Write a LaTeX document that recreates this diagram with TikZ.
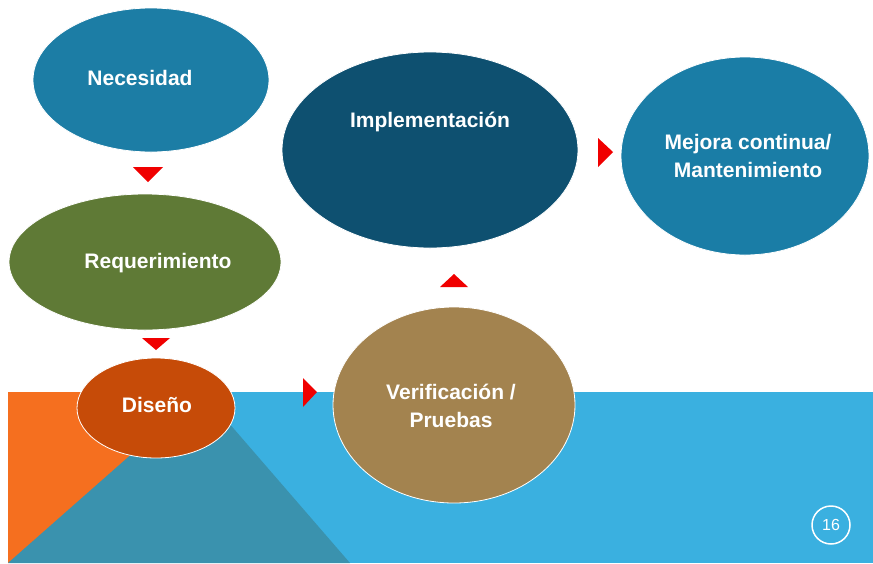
\documentclass[tikz,border=0pt]{standalone}
\usepackage{fontspec}
\setmainfont{Liberation Sans}
\usetikzlibrary{shapes.geometric}
\definecolor{cNec}{HTML}{1C7DA5}
\definecolor{cReq}{HTML}{5F7A36}
\definecolor{cDis}{HTML}{C64B08}
\definecolor{cVer}{HTML}{A3834F}
\definecolor{cImp}{HTML}{0E5070}
\definecolor{cMej}{HTML}{1A7DA6}
\definecolor{cBlue}{HTML}{3AB0E0}
\definecolor{cOrange}{HTML}{F56F1F}
\definecolor{cTeal}{HTML}{3A92AE}
\definecolor{cRed}{HTML}{F00000}
\tikzset{
  phase/.style={ellipse, draw=white, line width=0.8pt, inner sep=0pt},
  lbl/.style={text=white, font=\fontsize{21}{28}\selectfont\bfseries, align=center, inner sep=0pt},
  tri/.style={fill=cRed, draw=none}
}
\begin{document}
\begin{tikzpicture}[x=1pt,y=-1pt]
\useasboundingbox (0,0) rectangle (873,563);
\fill[white] (0,0) rectangle (873,563);
% background
\fill[cOrange] (8,392) rectangle (204,563);
\fill[cBlue] (202,392) rectangle (873,563);
\fill[cTeal] (202,392) -- (350,563) -- (8,563) -- cycle;
% ellipses
\node[phase, fill=cNec, minimum width=236, minimum height=144] (nec) at (151,80) {};
\node[phase, fill=cReq, minimum width=272, minimum height=136] (req) at (145,262) {};
\node[phase, fill=cDis, minimum width=158, minimum height=100] (dis) at (156,408) {};
\node[phase, fill=cVer, minimum width=242, minimum height=196] (ver) at (454,405) {};
\node[phase, fill=cImp, minimum width=296, minimum height=196] (imp) at (430,150) {};
\node[phase, fill=cMej, minimum width=248, minimum height=198] (mej) at (745,156) {};
% labels
\node[lbl] (tnec) at (140,78) {Necesidad};
\node[lbl] (treq) at (158,263) {Requerimiento};
\node[lbl] (tdis) at (157,405) {Diseño};
\node[lbl] (tver) at (451,406) {Verificación /\\Pruebas};
\node[lbl] (timp) at (430,122) {Implementación};
\node[lbl] (tmej) at (748,156) {Mejora continua/\\Mantenimiento};
% red triangles
\fill[tri] (133,167) -- (163,167) -- (148,182) -- cycle;
\fill[tri] (142,338) -- (170,338) -- (156,350) -- cycle;
\fill[tri] (303,378) -- (303,407) -- (317,392) -- cycle;
\fill[tri] (440,287) -- (468,287) -- (454,274) -- cycle;
\fill[tri] (598,138) -- (598,167) -- (613,152) -- cycle;
% page number
\node[circle, draw=white, line width=1.5pt, minimum size=38, text=white,
  font=\fontsize{16}{18}\selectfont, inner sep=0pt] (pg) at (831,525) {16};
\end{tikzpicture}
\end{document}
